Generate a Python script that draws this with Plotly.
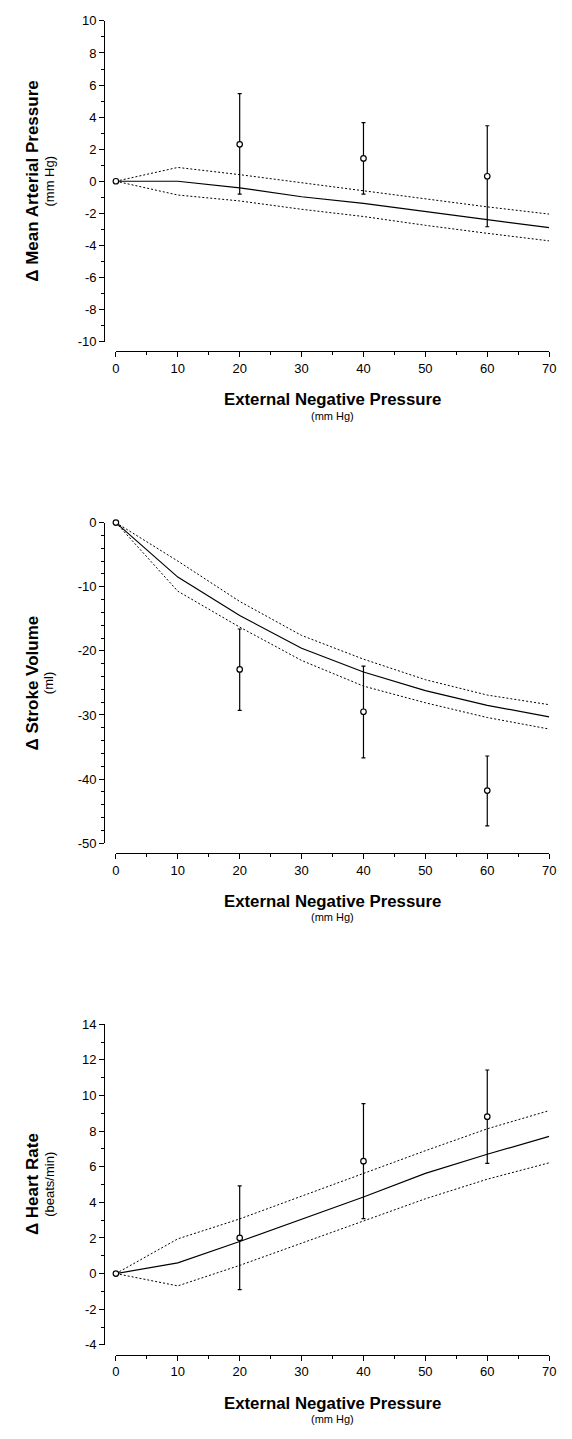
import plotly.graph_objects as go

# the page body keeps its default 8px margin; the figure is sized so the
# whole page is exactly 572 x 1439
OFF = 8
W, H = 572 - 2 * OFF, 1439 - 2 * OFF

# ---------------- data ----------------
model_x = [0, 10, 20, 30, 40, 50, 60, 70]
obs_x = [0, 20, 40, 60]

map_mean = [0, 0, -0.41, -0.97, -1.38, -1.90, -2.42, -2.90]
map_upper = [0, 0.86, 0.41, -0.10, -0.58, -1.10, -1.60, -2.05]
map_lower = [0, -0.86, -1.23, -1.75, -2.20, -2.75, -3.25, -3.72]
map_obs = [0, 2.30, 1.42, 0.31]
map_obs_hi = [0, 5.47, 3.66, 3.46]
map_obs_lo = [0, -0.80, -0.80, -2.84]

sv_mean = [0, -8.5, -14.5, -19.6, -23.3, -26.2, -28.5, -30.3]
sv_upper = [0, -6.0, -12.3, -17.6, -21.3, -24.5, -26.9, -28.4]
sv_lower = [0, -10.7, -16.3, -21.5, -25.5, -28.1, -30.4, -32.2]
sv_obs = [0, -22.9, -29.5, -41.8]
sv_obs_hi = [0, -16.6, -22.4, -36.4]
sv_obs_lo = [0, -29.3, -36.7, -47.3]

hr_mean = [0, 0.6, 1.8, 3.04, 4.3, 5.63, 6.7, 7.7]
hr_upper = [0, 1.95, 3.07, 4.35, 5.63, 6.9, 8.13, 9.15]
hr_lower = [0, -0.69, 0.46, 1.7, 2.94, 4.2, 5.3, 6.22]
hr_obs = [0, 2.0, 6.31, 8.81]
hr_obs_hi = [0, 4.93, 9.54, 11.43]
hr_obs_lo = [0, -0.9, 3.09, 6.19]

x_ticks = [0, 10, 20, 30, 40, 50, 60, 70]
map_ticks = [-10, -8, -6, -4, -2, 0, 2, 4, 6, 8, 10]
sv_ticks = [-50, -40, -30, -20, -10, 0]
hr_ticks = [-4, -2, 0, 2, 4, 6, 8, 10, 12, 14]

panels = [
    dict(mean=map_mean, upper=map_upper, lower=map_lower, obs=map_obs,
         hi=map_obs_hi, lo=map_obs_lo, yrange=[-10, 10], ticks=map_ticks, minor=1,
         title="\u0394 Mean Arterial Pressure", sub="(mm Hg)"),
    dict(mean=sv_mean, upper=sv_upper, lower=sv_lower, obs=sv_obs,
         hi=sv_obs_hi, lo=sv_obs_lo, yrange=[-50, 0], ticks=sv_ticks, minor=2,
         title="\u0394 Stroke Volume", sub="(ml)"),
    dict(mean=hr_mean, upper=hr_upper, lower=hr_lower, obs=hr_obs,
         hi=hr_obs_hi, lo=hr_obs_lo, yrange=[-4, 14], ticks=hr_ticks, minor=1,
         title="\u0394 Heart Rate", sub="(beats/min)"),
]

# ---------------- layout helpers (window pixel coords) ----------------
def fx(px):
    return (px - OFF) / W

def fy(py):
    return 1 - (py - OFF) / H

tops = [14, 521, 1028]
AX_H = 324
X0, X1 = 114, 556
YAXIS_X = 102
FONT = "Liberation Sans, Arial, Helvetica, sans-serif"

fig = go.Figure()
layout = dict(
    width=W, height=H,
    margin=dict(l=0, r=0, t=0, b=0),
    paper_bgcolor="white", plot_bgcolor="white",
    showlegend=False,
    font=dict(family=FONT, color="black", size=13),
)
annotations = []

for i, p in enumerate(panels):
    n = "" if i == 0 else str(i + 1)
    xa, ya = "x" + n, "y" + n
    top = tops[i]

    dotted = dict(color="black", width=1, dash="2px,2px")
    fig.add_trace(go.Scatter(x=model_x, y=p["upper"], mode="lines", line=dotted,
                             xaxis=xa, yaxis=ya, hoverinfo="skip"))
    fig.add_trace(go.Scatter(x=model_x, y=p["lower"], mode="lines", line=dotted,
                             xaxis=xa, yaxis=ya, hoverinfo="skip"))
    fig.add_trace(go.Scatter(x=model_x, y=p["mean"], mode="lines",
                             line=dict(color="black", width=1.2),
                             xaxis=xa, yaxis=ya, hoverinfo="skip"))
    plus = [h - m for h, m in zip(p["hi"], p["obs"])]
    minus = [m - l for l, m in zip(p["lo"], p["obs"])]
    fig.add_trace(go.Scatter(
        x=obs_x, y=p["obs"], mode="markers", cliponaxis=False,
        marker=dict(symbol="circle", size=5.5, color="white",
                    line=dict(color="black", width=1.2)),
        error_y=dict(type="data", symmetric=False, array=plus, arrayminus=minus,
                     color="black", thickness=1.2, width=2),
        xaxis=xa, yaxis=ya))

    layout["xaxis" + n] = dict(
        domain=[fx(X0), fx(X1)], range=[0, 70], anchor="free",
        position=fy(top + AX_H + 10),
        tickmode="array", tickvals=x_ticks, ticktext=[str(v) for v in x_ticks],
        showline=True, linecolor="black", linewidth=1,
        ticks="outside", ticklen=5, tickwidth=1, tickcolor="black",
        minor=dict(ticks="outside", ticklen=3, tickwidth=1, tickcolor="black", dtick=5, tick0=0),
        showgrid=False, zeroline=False,
        tickfont=dict(family=FONT, size=13, color="black"),
    )
    layout["yaxis" + n] = dict(
        domain=[fy(top + AX_H), fy(top)], range=p["yrange"], anchor="free",
        position=fx(YAXIS_X),
        tickmode="array", tickvals=p["ticks"], ticktext=[str(v) for v in p["ticks"]],
        showline=True, linecolor="black", linewidth=1,
        ticks="outside", ticklen=5, tickwidth=1, tickcolor="black",
        minor=dict(ticks="outside", ticklen=3, tickwidth=1, tickcolor="black",
                   dtick=p["minor"], tick0=0),
        showgrid=False, zeroline=False,
        tickfont=dict(family=FONT, size=13, color="black"),
    )

    cy = top + AX_H / 2
    annotations.append(dict(
        text="<b>" + p["title"] + "</b>", textangle=-90, xref="paper", yref="paper",
        x=fx(29), y=fy(cy), xanchor="center", yanchor="middle", showarrow=False,
        font=dict(family=FONT, size=17, color="black")))
    annotations.append(dict(
        text=p["sub"], textangle=-90, xref="paper", yref="paper",
        x=fx(46), y=fy(cy), xanchor="center", yanchor="middle", showarrow=False,
        font=dict(family=FONT, size=13, color="black")))
    cx = (X0 + X1) / 2
    annotations.append(dict(
        text="<b>External Negative Pressure</b>", xref="paper", yref="paper",
        x=fx(cx), y=fy(top + 383), xanchor="center", yanchor="middle", showarrow=False,
        font=dict(family=FONT, size=16.8, color="black")))
    annotations.append(dict(
        text="(mm Hg)", xref="paper", yref="paper",
        x=fx(cx), y=fy(top + 399), xanchor="center", yanchor="middle", showarrow=False,
        font=dict(family=FONT, size=11, color="black")))

layout["annotations"] = annotations
fig.update_layout(**layout)
fig.write_html("out.html", config={"displayModeBar": False})
